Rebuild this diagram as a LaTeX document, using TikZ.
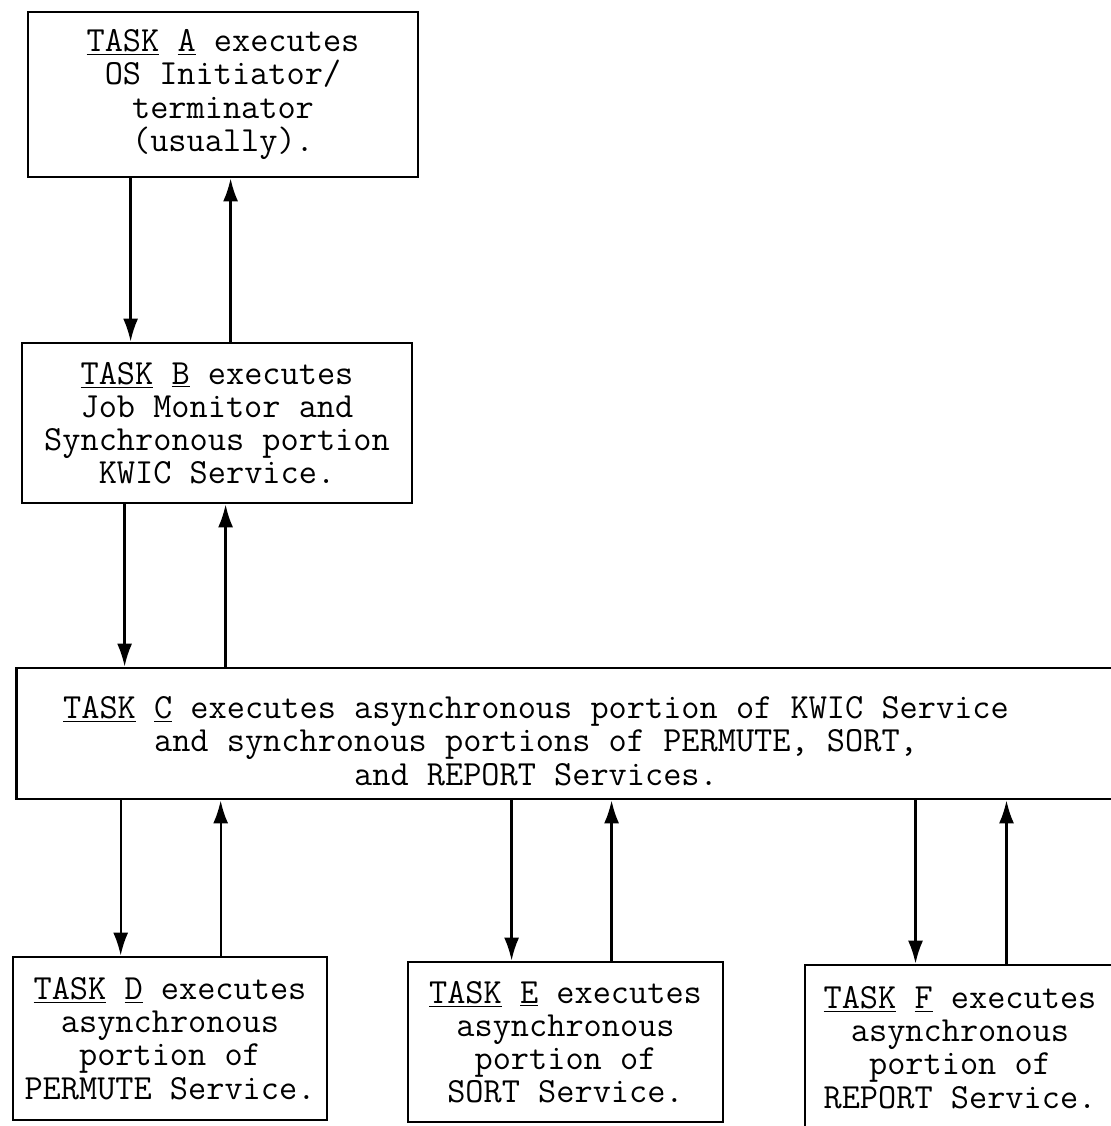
\documentclass[tikz,border=0pt]{standalone}
\usepackage{fontspec}
\newfontfamily\typer{Latin Modern Mono}
\usepackage{tikz}
\usetikzlibrary{arrows.meta,positioning}

\newcommand{\taskhead}[1]{\underline{TASK} \underline{#1}}

\begin{document}
\begin{tikzpicture}[
  x=0.02cm, y=-0.02cm,
  taskbox/.style={draw, line width=1.6pt, inner sep=0pt, align=center,
                  font=\typer\fontsize{20.1}{18.9}\selectfont},
  tasktext/.style={align=center, inner sep=0pt,
                   font=\typer\fontsize{20.1}{18.9}\selectfont},
  flow/.style={-{Latex[length=0.46cm,width=0.3cm]}, line width=1.3pt},
]
  \useasboundingbox (0,0) rectangle (1111,1126);

  % Chain of tasks, top to bottom
  \node[taskbox, minimum width=7.8cm, minimum height=3.3cm] (A) at (223,94.5)
    {\taskhead{A} executes\\OS Initiator/\\terminator\\(usually).};
  \node[taskbox, minimum width=7.8cm, minimum height=3.2cm] (B) at (217,423)
    {\taskhead{B} executes\\Job Monitor and\\Synchronous portion\\KWIC Service.};

  % Task C runs off the right edge, so its text sits left of the box centre
  \node[taskbox, minimum width=22.28cm, minimum height=2.62cm] (C) at (573,733.5) {};
  \node[tasktext] (Ctext) at (536,741)
    {\taskhead{C} executes asynchronous portion of KWIC Service\\
     and synchronous portions of PERMUTE, SORT,\\
     and REPORT Services.};

  % Asynchronous service tasks
  \node[taskbox, minimum width=6.28cm, minimum height=3.26cm] (D) at (170,1038.5)
    {\taskhead{D} executes\\asynchronous\\portion of\\PERMUTE Service.};
  \node[taskbox, minimum width=6.3cm, minimum height=3.2cm] (E) at (565.5,1042)
    {\taskhead{E} executes\\asynchronous\\portion of\\SORT Service.};
  \node[taskbox, minimum width=6.2cm, minimum height=3.3cm] (F) at (960,1047.5)
    {\taskhead{F} executes\\asynchronous\\portion of\\REPORT Service.};

  % Calls go down on the left, returns come up on the right
  \draw[flow] ([xshift=2.08cm]A.south west) -- ([xshift=2.08cm]A.south west |- B.north);
  \draw[flow] ([xshift=4.08cm]A.south west |- B.north) -- ([xshift=4.08cm]A.south west);

  \draw[flow] ([xshift=2.08cm]B.south west) -- ([xshift=2.08cm]B.south west |- C.north);
  \draw[flow] ([xshift=4.1cm]B.south west |- C.north) -- ([xshift=4.1cm]B.south west);

  \draw[flow] ([xshift=2.12cm]C.south west) -- ([xshift=2.12cm]C.south west |- D.north);
  \draw[flow] ([xshift=4.12cm]C.south west |- D.north) -- ([xshift=4.12cm]C.south west);

  \draw[flow] ([xshift=9.94cm]C.south west) -- ([xshift=9.94cm]C.south west |- E.north);
  \draw[flow] ([xshift=11.94cm]C.south west |- E.north) -- ([xshift=11.94cm]C.south west);

  \draw[flow] ([xshift=18.02cm]C.south west) -- ([xshift=18.02cm]C.south west |- F.north);
  \draw[flow] ([xshift=19.84cm]C.south west |- F.north) -- ([xshift=19.84cm]C.south west);
\end{tikzpicture}
\end{document}
